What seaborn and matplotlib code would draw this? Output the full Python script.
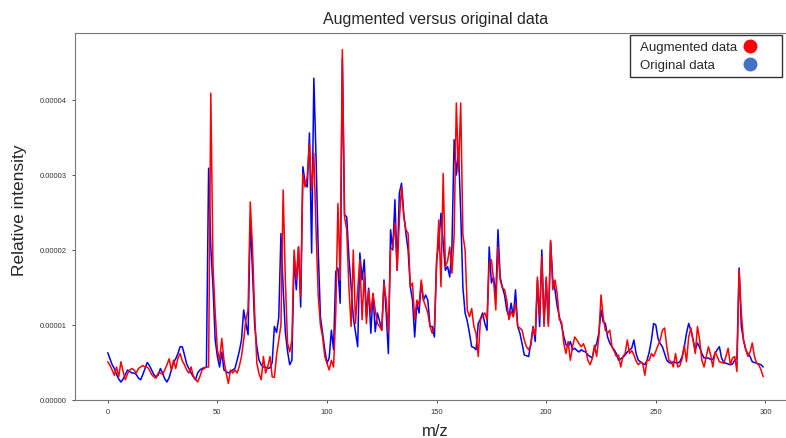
import numpy as np
import pandas as pd
import matplotlib
matplotlib.use("Agg")
import matplotlib.pyplot as plt
import seaborn as sns
from matplotlib.lines import Line2D

# m/z index
mz = list(range(300))

# Original data (relative intensity, in units of 1e-6)
original = [
    6.3, 5.5, 4.7, 4.2, 3.4, 2.8, 2.4, 2.8, 3.4, 4.0,
    3.8, 3.6, 3.6, 3.4, 2.9, 2.7, 3.4, 4.2, 5.0, 4.6,
    4.0, 3.4, 3.1, 3.3, 4.2, 3.6, 2.8, 2.4, 3.0, 4.0,
    5.0, 5.5, 6.2, 7.1, 7.1, 6.0, 4.8, 4.2, 3.6, 3.1,
    2.7, 3.6, 4.0, 4.2, 4.3, 4.4, 30.9, 20.4, 15.1, 8.0,
    5.8, 4.4, 6.4, 4.0, 3.8, 3.6, 3.8, 4.0, 4.2, 5.3,
    6.5, 8.0, 12.0, 10.2, 8.7, 24.0, 17.3, 10.0, 7.1, 5.3,
    4.7, 4.4, 4.4, 4.2, 4.3, 5.0, 9.8, 9.0, 11.0, 22.2,
    15.0, 9.0, 6.5, 4.7, 5.3, 19.1, 14.7, 20.4, 12.4, 31.1,
    29.0, 28.4, 35.6, 19.6, 42.9, 32.4, 20.0, 11.1, 8.9, 6.7,
    4.9, 5.6, 9.3, 6.7, 17.1, 17.6, 12.9, 45.5, 24.7, 24.4,
    19.0, 15.1, 11.0, 9.0, 7.1, 19.6, 16.0, 18.7, 11.1, 14.9,
    8.9, 14.2, 9.1, 11.6, 10.5, 9.3, 16.0, 11.6, 6.2, 22.7,
    20.0, 26.7, 17.3, 27.6, 28.9, 24.9, 22.2, 20.0, 15.1, 13.3,
    8.4, 12.9, 11.6, 15.6, 13.3, 14.0, 13.3, 9.8, 9.8, 8.4,
    18.7, 20.9, 24.9, 21.0, 17.3, 17.8, 16.4, 20.4, 34.7, 30.0,
    33.3, 25.0, 15.0, 11.6, 10.5, 8.9, 7.1, 7.0, 6.7, 10.2,
    10.8, 11.6, 10.2, 9.3, 20.4, 15.6, 16.4, 13.8, 22.7, 16.4,
    15.0, 14.0, 12.0, 11.1, 12.9, 11.1, 14.7, 9.8, 8.9, 7.5,
    6.0, 5.9, 5.8, 7.6, 9.8, 7.8, 16.0, 9.8, 20.0, 10.2,
    16.0, 10.2, 21.1, 16.0, 14.7, 12.5, 11.1, 10.0, 8.5, 7.4,
    7.1, 7.8, 6.7, 6.9, 6.6, 6.4, 6.7, 6.5, 6.4, 6.0,
    5.8, 5.6, 6.9, 7.5, 8.9, 12.0, 10.4, 10.2, 8.4, 7.6,
    7.1, 6.7, 6.2, 5.3, 5.5, 5.7, 6.0, 6.4, 6.7, 6.9,
    8.0, 6.2, 5.3, 5.1, 4.9, 4.7, 5.3, 6.4, 8.0, 10.2,
    10.0, 8.2, 7.5, 7.1, 6.2, 5.3, 5.0, 4.9, 5.1, 5.0,
    4.9, 5.1, 5.8, 7.1, 8.9, 10.2, 9.3, 8.0, 6.7, 7.6,
    7.0, 6.2, 5.6, 5.6, 5.6, 5.4, 5.4, 6.2, 6.7, 7.1,
    5.6, 5.0, 4.9, 4.8, 4.7, 4.8, 5.3, 5.6, 17.6, 9.8,
    8.0, 6.7, 6.2, 5.8, 5.1, 5.0, 4.9, 4.8, 4.7, 4.4,
]

# Augmented data (relative intensity, in units of 1e-6)
augmented = [
    5.1, 4.6, 4.0, 3.3, 4.4, 3.1, 5.1, 3.8, 2.7, 3.5,
    4.0, 4.2, 4.0, 3.6, 4.2, 4.4, 4.6, 4.4, 4.4, 4.0,
    3.4, 3.1, 2.9, 3.6, 3.6, 3.4, 4.0, 4.7, 5.5, 4.0,
    5.3, 4.2, 5.6, 6.2, 5.2, 4.7, 4.0, 3.6, 4.4, 3.2,
    2.8, 2.4, 3.1, 4.0, 4.2, 4.4, 4.4, 40.9, 17.8, 11.6,
    6.7, 5.3, 8.2, 5.3, 3.6, 2.2, 4.0, 3.6, 4.0, 3.6,
    4.5, 5.8, 8.0, 10.7, 12.0, 26.4, 20.4, 11.6, 4.9, 3.5,
    2.7, 5.8, 3.6, 4.5, 5.8, 3.1, 3.0, 6.0, 8.0, 10.0,
    28.0, 16.0, 7.6, 6.4, 8.0, 20.0, 16.0, 20.4, 13.8, 30.2,
    28.4, 29.8, 34.2, 28.0, 32.9, 22.7, 14.0, 10.0, 8.4, 5.8,
    4.9, 4.0, 5.3, 4.4, 11.6, 26.2, 16.0, 46.7, 24.4, 22.7,
    15.0, 9.8, 20.0, 10.2, 14.7, 18.7, 10.7, 16.9, 10.2, 14.7,
    11.6, 14.2, 12.0, 10.2, 9.8, 9.3, 15.6, 13.3, 8.9, 20.0,
    20.4, 23.6, 17.3, 24.0, 28.4, 24.5, 22.7, 22.2, 15.1, 15.6,
    10.7, 13.3, 12.7, 16.0, 13.3, 12.5, 11.6, 9.8, 8.9, 9.8,
    18.0, 24.0, 15.1, 30.2, 17.8, 18.5, 20.4, 16.9, 22.0, 39.6,
    30.4, 39.6, 22.0, 20.0, 12.0, 11.1, 12.2, 9.8, 8.9, 5.8,
    10.7, 11.2, 11.6, 10.7, 18.2, 18.7, 16.0, 12.0, 20.4, 16.0,
    15.0, 14.7, 13.3, 10.7, 11.8, 11.1, 12.9, 9.8, 9.6, 9.3,
    8.0, 7.1, 6.7, 7.3, 9.6, 8.7, 16.4, 11.1, 19.1, 9.8,
    16.4, 9.8, 21.3, 14.7, 16.0, 14.2, 10.7, 10.4, 7.6, 6.2,
    7.8, 5.3, 7.1, 8.4, 8.0, 7.5, 7.1, 7.5, 6.7, 5.3,
    4.7, 5.5, 7.3, 5.8, 8.4, 14.0, 11.0, 9.3, 8.9, 9.3,
    7.1, 6.5, 5.8, 6.0, 4.4, 5.8, 6.2, 8.0, 6.2, 6.6,
    6.0, 5.2, 4.7, 5.0, 4.9, 3.3, 5.3, 5.3, 6.2, 5.8,
    6.5, 7.3, 8.0, 9.3, 9.6, 7.1, 5.3, 5.1, 4.4, 6.2,
    4.4, 4.6, 5.5, 7.3, 5.1, 8.4, 9.6, 8.0, 6.2, 9.8,
    8.0, 5.3, 4.4, 5.8, 7.1, 6.0, 4.4, 6.4, 5.8, 5.1,
    5.0, 4.9, 5.8, 6.9, 4.7, 5.6, 5.8, 3.8, 17.3, 11.6,
    8.0, 6.8, 5.8, 6.4, 7.6, 5.8, 4.9, 4.7, 4.0, 3.1,
]

assert len(original) == 300 and len(augmented) == 300

x_ticks = [0, 50, 100, 150, 200, 250, 300]
series_labels = ["Augmented data", "Original data"]

df_orig = pd.DataFrame({"mz": mz, "val": np.array(original) * 1e-6})
df_aug = pd.DataFrame({"mz": mz, "val": np.array(augmented) * 1e-6})

sns.set_style("ticks")
plt.rcParams["font.family"] = ["Liberation Sans", "DejaVu Sans"]

W, H = 786, 439
fig = plt.figure(figsize=(W / 100, H / 100), dpi=100)
ax = fig.add_axes([75 / W, 38 / H, (796 - 75) / W, (405 - 38) / H])

sns.lineplot(data=df_orig, x="mz", y="val", color="blue", linewidth=1.1, ax=ax)
sns.lineplot(data=df_aug, x="mz", y="val", color="red", linewidth=1.1, ax=ax)

ax.set_ylim(bottom=0)
ax.set_xticks(x_ticks)
ax.yaxis.set_major_formatter(matplotlib.ticker.FormatStrFormatter("%.5f"))
ax.tick_params(labelsize=5.5, length=2.5, width=0.6, colors="#333333")
for s in ax.spines.values():
    s.set_color("#777777")
    s.set_linewidth(0.8)

ax.set_title("Augmented versus original data", fontsize=11.5, pad=7)
ax.set_xlabel("m/z", fontsize=12)
ax.set_ylabel("Relative intensity", fontsize=12.5)
ax.xaxis.set_label_coords(0.5, -0.062)
ax.yaxis.set_label_coords(-0.066, 0.52)

# legend: text column on the left, marker column on the right
blank = Line2D([], [], linestyle="none", marker="")
dot_aug = Line2D([], [], linestyle="none", marker="o", markersize=9,
                 markerfacecolor="red", markeredgecolor="red")
dot_orig = Line2D([], [], linestyle="none", marker="o", markersize=9,
                  markerfacecolor="#4472C4", markeredgecolor="#4472C4")
pad_label = "\u00a0" * 6
leg = ax.legend([blank, blank, dot_aug, dot_orig],
                series_labels + [pad_label, pad_label],
                ncol=2, loc="upper right",
                bbox_to_anchor=(782 / W, 1 - 36 / H), bbox_transform=fig.transFigure,
                borderaxespad=0, fontsize=9.5, frameon=True, fancybox=False,
                edgecolor="black", handlelength=0, handletextpad=0.3,
                columnspacing=1.0, labelspacing=0.45, borderpad=0.45)
leg.get_frame().set_linewidth(1.0)

fig.savefig("out.png", dpi=100)
